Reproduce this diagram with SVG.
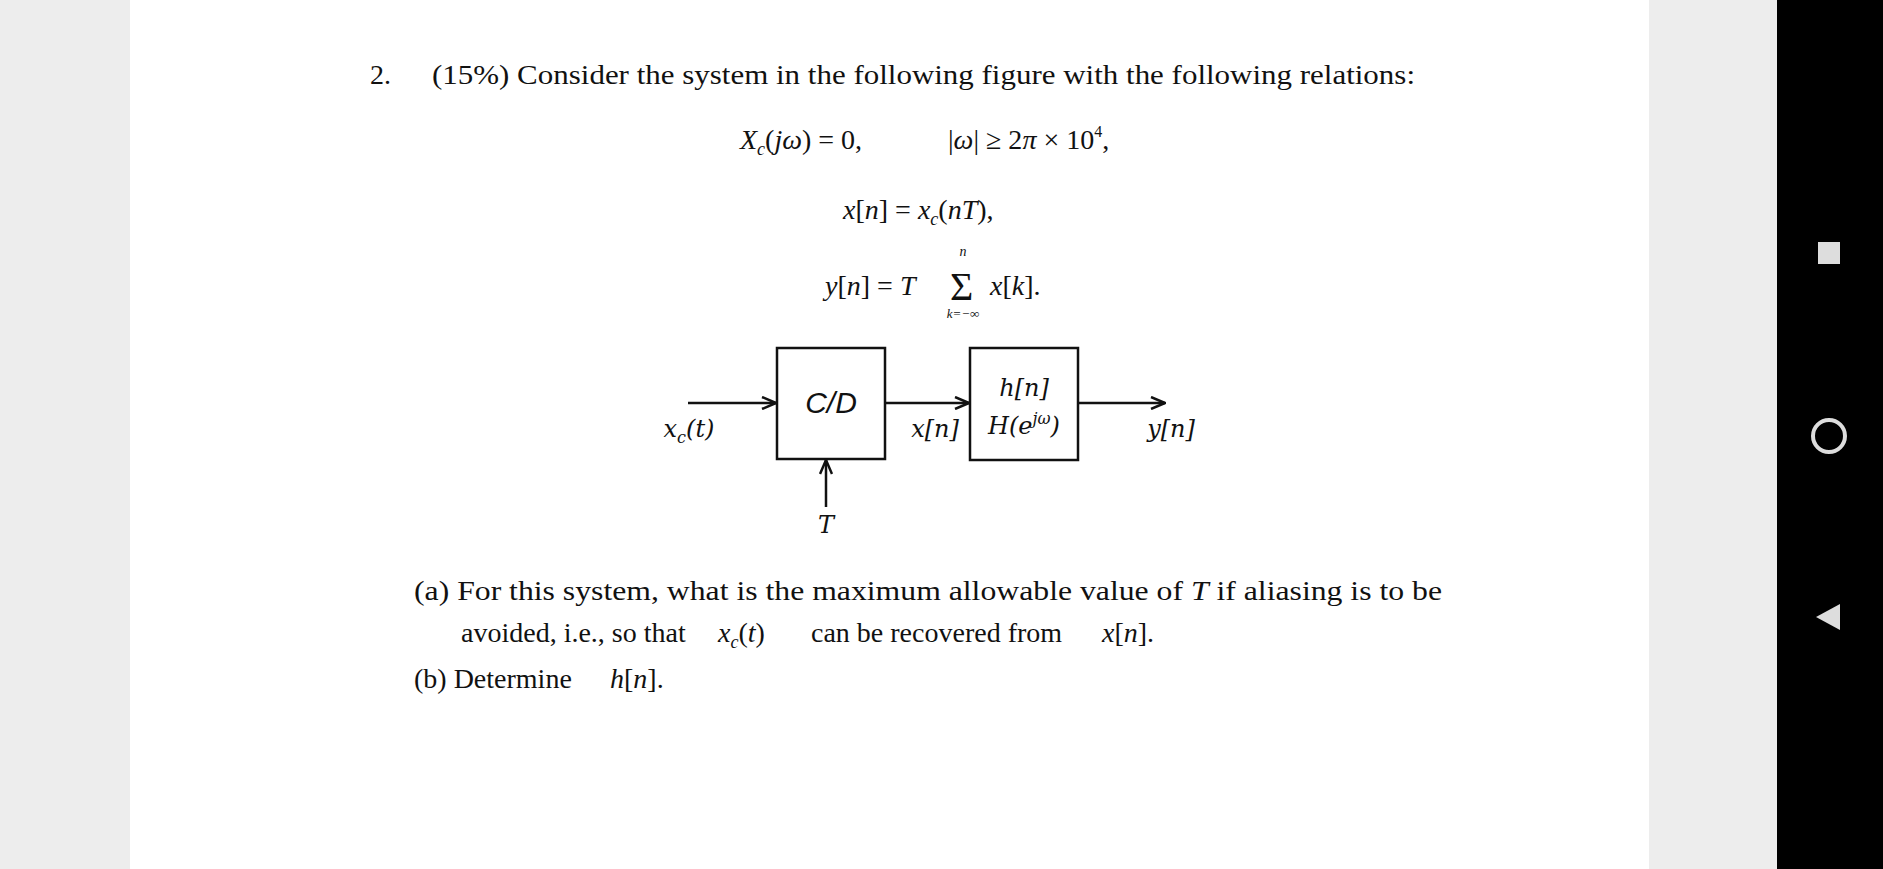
<svg xmlns="http://www.w3.org/2000/svg" width="1883" height="869" viewBox="0 0 1883 869">
<style>
.t{font-family:"Liberation Serif",serif;font-size:28px;fill:#111}
.i{font-style:italic}
.m{font-family:"DejaVu Serif","Liberation Serif",serif;font-style:italic;font-size:24px;fill:#111}
.ln{stroke:#111;stroke-width:2.5;fill:none}
.bx{stroke:#111;stroke-width:2.5;fill:#fff}
</style>
<defs><marker id="a" markerWidth="16" markerHeight="14" refX="15" refY="7" orient="auto" markerUnits="userSpaceOnUse"><path d="M1,1 L15,7 L1,13" fill="none" stroke="#111" stroke-width="2.5"/></marker></defs>
<rect width="1883" height="869" fill="#ededed"/>
<rect x="130" y="0" width="1519" height="869" fill="#fff"/>
<rect x="1777" y="0" width="106" height="869" fill="#000"/>
<rect x="1818" y="242" width="22" height="22" fill="#ddd"/>
<circle cx="1829" cy="436" r="16" fill="none" stroke="#ddd" stroke-width="4"/>
<path d="M1816,617 L1840,604 L1840,630 Z" fill="#ddd"/>
<text class="t" x="370" y="84">2.</text>
<text class="t" x="432" y="84" textLength="983" lengthAdjust="spacingAndGlyphs">(15%) Consider the system in the following figure with the following relations:</text>
<text class="t" x="740" y="149"><tspan class="i">X</tspan><tspan class="i" font-size="18" dy="6">c</tspan><tspan dy="-6">(</tspan><tspan class="i">jω</tspan>) = 0,</text>
<text class="t" x="948" y="149">|<tspan class="i">ω</tspan>| ≥ 2<tspan class="i">π</tspan> × 10<tspan font-size="16" dy="-12">4</tspan><tspan dy="12">,</tspan></text>
<text class="t" x="843" y="219"><tspan class="i">x</tspan>[<tspan class="i">n</tspan>] = <tspan class="i">x</tspan><tspan class="i" font-size="18" dy="6">c</tspan><tspan dy="-6">(</tspan><tspan class="i">nT</tspan>),</text>
<text class="t" x="825" y="295"><tspan class="i">y</tspan>[<tspan class="i">n</tspan>] = <tspan class="i">T</tspan></text>
<text class="t" x="950" y="300" style="font-size:40px">Σ</text>
<text class="t i" x="963" y="256" text-anchor="middle" style="font-size:14px">n</text>
<text class="t i" x="963" y="318" text-anchor="middle" style="font-size:13px">k=−∞</text>
<text class="t" x="990" y="295"><tspan class="i">x</tspan>[<tspan class="i">k</tspan>].</text>
<g id="cd"><rect class="bx" x="777" y="348" width="108" height="111"/><text x="831" y="413" text-anchor="middle" font-family="Liberation Sans,sans-serif" font-style="italic" font-size="30" fill="#111">C/D</text></g>
<g id="h"><rect class="bx" x="970" y="348" width="108" height="112"/><text class="m" x="1024" y="396" text-anchor="middle">h[n]</text><text class="m" x="1024" y="434" text-anchor="middle">H(e<tspan font-size="16" dy="-10">jω</tspan><tspan dy="10">)</tspan></text></g>
<g id="connectors">
<line class="ln" x1="688" y1="403" x2="776" y2="403" marker-end="url(#a)"/>
<line class="ln" x1="885" y1="403" x2="969" y2="403" marker-end="url(#a)"/>
<line class="ln" x1="1078" y1="403" x2="1165" y2="403" marker-end="url(#a)"/>
<line class="ln" x1="826" y1="507" x2="826" y2="460" marker-end="url(#a)"/>
</g>
<text class="m" x="689" y="437" text-anchor="middle">x<tspan font-size="16" dy="6">c</tspan><tspan dy="-6">(t)</tspan></text>
<text class="m" x="935" y="437" text-anchor="middle">x[n]</text>
<text class="m" x="1171" y="437" text-anchor="middle">y[n]</text>
<text class="m" x="826" y="533" text-anchor="middle">T</text>
<text class="t" x="414" y="600" textLength="1028" lengthAdjust="spacingAndGlyphs">(a) For this system, what is the maximum allowable value of <tspan class="i">T</tspan> if aliasing is to be</text>
<text class="t" x="461" y="642">avoided, i.e., so that</text>
<text class="t" x="718" y="642"><tspan class="i">x</tspan><tspan class="i" font-size="18" dy="6">c</tspan><tspan dy="-6">(</tspan><tspan class="i">t</tspan>)</text>
<text class="t" x="811" y="642">can be recovered from</text>
<text class="t" x="1102" y="642"><tspan class="i">x</tspan>[<tspan class="i">n</tspan>].</text>
<text class="t" x="414" y="688">(b) Determine</text>
<text class="t" x="610" y="688"><tspan class="i">h</tspan>[<tspan class="i">n</tspan>].</text>
</svg>
